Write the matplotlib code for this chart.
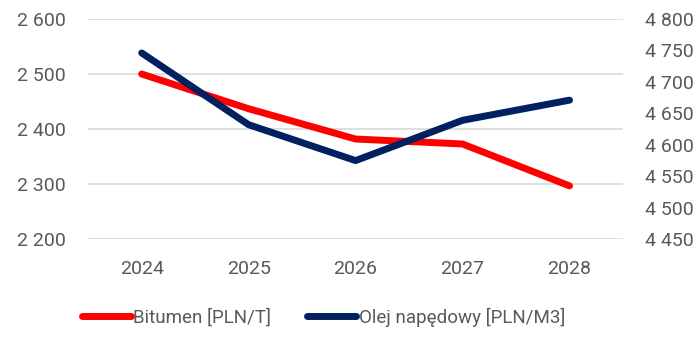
import matplotlib
matplotlib.use('Agg')
import matplotlib.pyplot as plt
from matplotlib.ticker import FuncFormatter, MultipleLocator

years = ['2024', '2025', '2026', '2027', '2028']
bitumen = [2500, 2437, 2382, 2373, 2297]
olej = [4746, 4632, 4575, 4639, 4671]

RED = '#FF0000'
NAVY = '#002060'
GREY = '#595959'

plt.rcParams['font.family'] = ['Roboto', 'DejaVu Sans']


def spaced(v, pos):
    # thousands separated with a space
    return '{:,.0f}'.format(v).replace(',', ' ')


fig = plt.figure(figsize=(7, 3.38), dpi=100)
ax = fig.add_axes([0.126, 0.292, 0.764, 0.652])
ax2 = ax.twinx()

x = list(range(len(years)))
l1, = ax.plot(x, bitumen, color=RED, lw=5, solid_capstyle='round',
              solid_joinstyle='round', label='Bitumen [PLN/T]', zorder=3)
l2, = ax2.plot(x, olej, color=NAVY, lw=5, solid_capstyle='round',
               solid_joinstyle='round', label='Olej napędowy [PLN/M3]', zorder=3)

ax.set_xlim(-0.5, 4.5)
ax.set_ylim(2200, 2600)
ax2.set_ylim(4450, 4800)
ax.yaxis.set_major_locator(MultipleLocator(100))
ax2.yaxis.set_major_locator(MultipleLocator(50))
ax.yaxis.set_major_formatter(FuncFormatter(spaced))
ax2.yaxis.set_major_formatter(FuncFormatter(spaced))
ax.set_xticks(x)
ax.set_xticklabels(years)

ax.grid(axis='y', color='#d9d9d9', lw=1.2)
ax.set_axisbelow(True)
for a in (ax, ax2):
    for s in a.spines.values():
        s.set_visible(False)
    a.tick_params(length=0, labelsize=14, colors=GREY)
ax.tick_params(axis='y', pad=16)
ax2.tick_params(axis='y', pad=16)
ax.tick_params(axis='x', pad=15)

fig.legend(handles=[l1, l2], loc='center', bbox_to_anchor=(0.462, 0.062),
           ncol=2, frameon=False, fontsize=13.5, labelcolor=GREY,
           handlelength=2.6, handletextpad=0.15, columnspacing=1.9)

fig.savefig('out.png', dpi=100)
